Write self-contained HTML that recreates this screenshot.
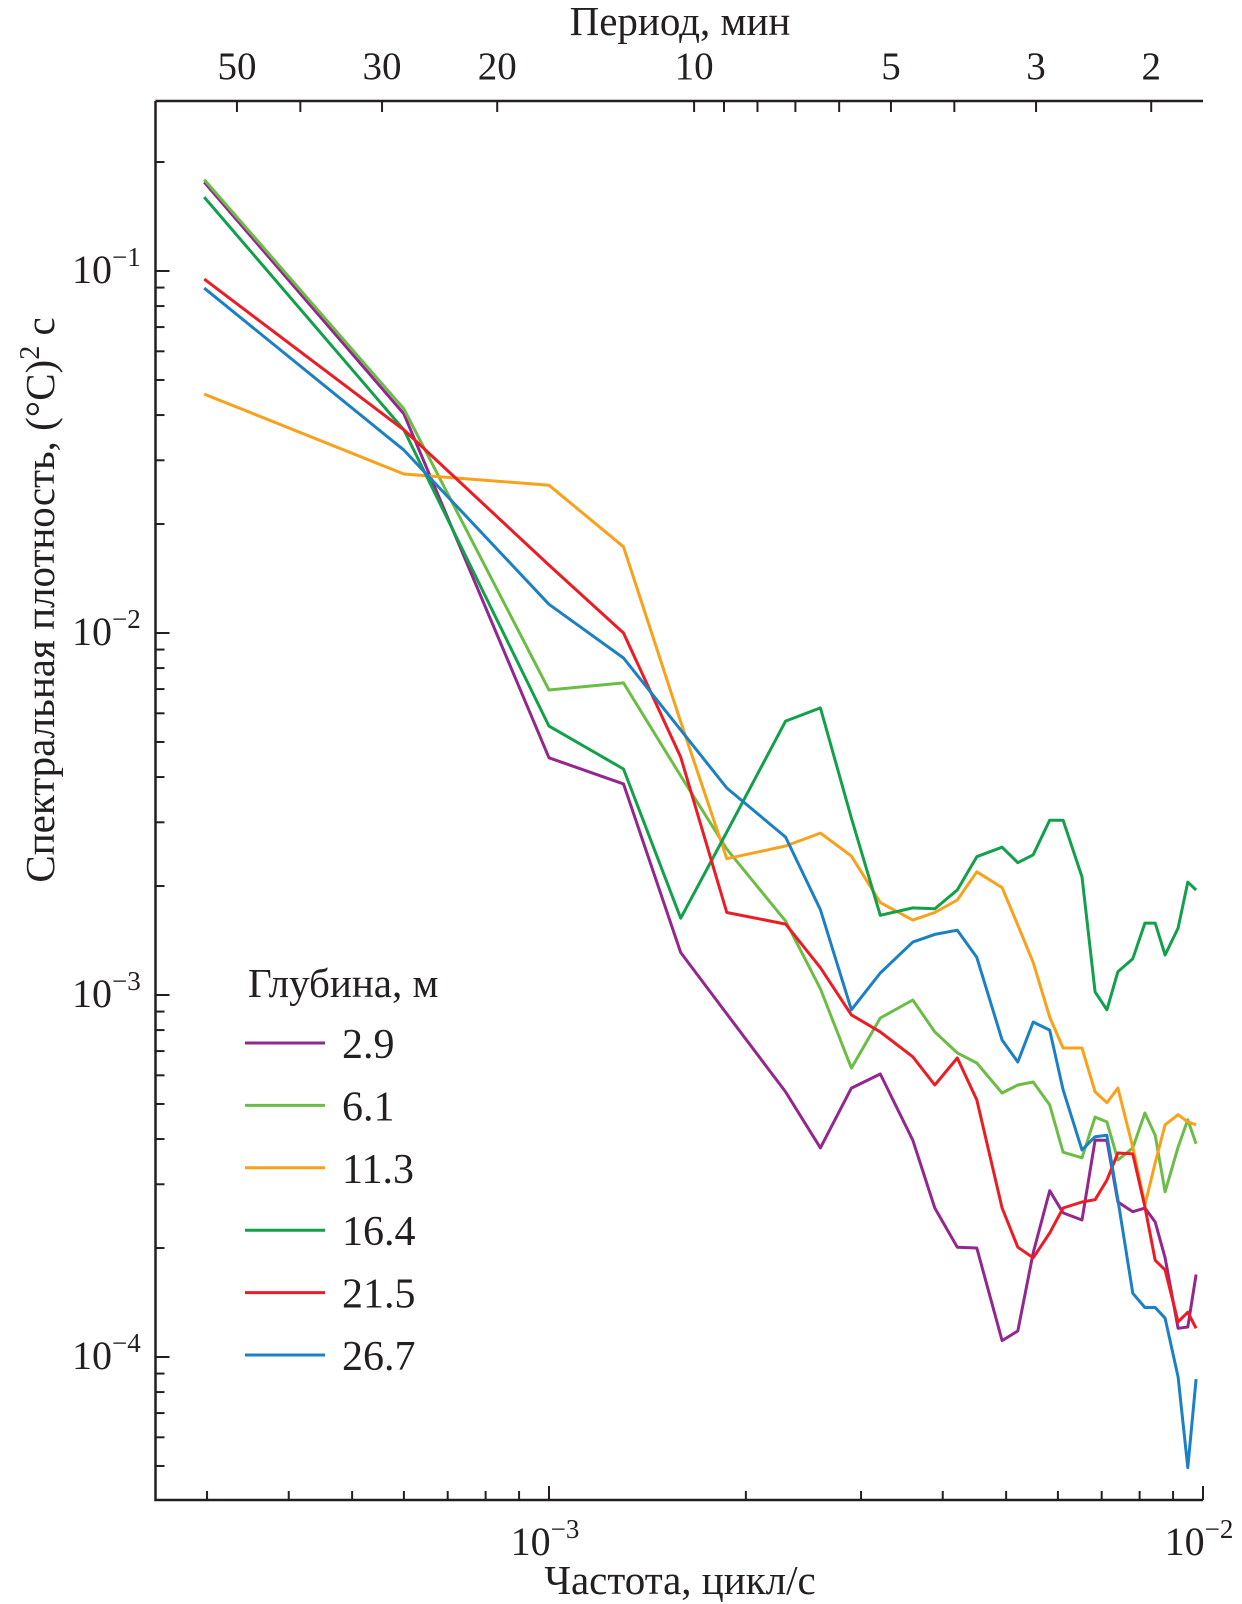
<!DOCTYPE html>
<html><head><meta charset="utf-8">
<style>
html,body{margin:0;padding:0;background:#fff;}
svg{display:block;font-family:"Liberation Serif",serif;}
</style></head>
<body>
<svg id="chart" width="1242" height="1604" viewBox="0 0 1242 1604" xmlns="http://www.w3.org/2000/svg">
<rect width="1242" height="1604" fill="#fff"/>
<g id="grid-ticks"></g>
<g id="series"></g>
<text x="680" y="35" font-size="41" text-anchor="middle" fill="#231f20">Период, мин</text>
<text x="680" y="1594" font-size="41" text-anchor="middle" fill="#231f20">Частота, цикл/с</text>
<text transform="translate(54,600) rotate(-90)" font-size="41" text-anchor="middle" fill="#231f20">Спектральная плотность, (°C)<tspan dy="-15" font-size="28">2</tspan><tspan dy="15"> с</tspan></text>
<g id="legend"></g>
</svg>
<script>
const freqs = [2.97e-4, 6.0e-4, 1.0e-3, 1.30e-3, 1.59e-3, 1.87e-3, 2.30e-3, 2.60e-3, 2.90e-3, 3.21e-3, 3.60e-3, 3.89e-3, 4.21e-3, 4.51e-3, 4.93e-3, 5.21e-3, 5.50e-3, 5.83e-3, 6.11e-3, 6.53e-3, 6.84e-3, 7.13e-3, 7.41e-3, 7.81e-3, 8.15e-3, 8.45e-3, 8.75e-3, 9.16e-3, 9.48e-3, 9.76e-3];
const depths = ["2.9", "6.1", "11.3", "16.4", "21.5", "26.7"];
const s29 = [0.176,0.0403,0.00452,0.00383,0.00131,8.87e-4,5.40e-4,3.78e-4,5.53e-4,6.05e-4,3.97e-4,2.58e-4,2.01e-4,2.00e-4,1.11e-4,1.18e-4,1.94e-4,2.88e-4,2.50e-4,2.39e-4,3.97e-4,3.97e-4,2.68e-4,2.52e-4,2.58e-4,2.36e-4,1.88e-4,1.20e-4,1.21e-4,1.69e-4];
const s61 = [0.179,0.0416,0.00696,0.00728,0.00403,0.00253,0.00160,0.00104,6.28e-4,8.64e-4,9.69e-4,7.91e-4,6.92e-4,6.49e-4,5.36e-4,5.64e-4,5.75e-4,4.97e-4,3.68e-4,3.55e-4,4.60e-4,4.46e-4,3.50e-4,3.78e-4,4.72e-4,4.10e-4,2.86e-4,3.80e-4,4.52e-4,3.88e-4];
const s113 = [0.0457,0.0275,0.0256,0.0173,0.00568,0.00238,0.00258,0.00280,0.00242,0.00180,0.00161,0.00169,0.00183,0.00219,0.00198,0.00156,0.00123,8.69e-4,7.14e-4,7.14e-4,5.40e-4,5.04e-4,5.53e-4,3.80e-4,2.63e-4,3.44e-4,4.38e-4,4.67e-4,4.46e-4,4.38e-4];
const s164 = [0.160,0.0364,0.00553,0.00421,0.00163,0.00282,0.00571,0.00621,0.00308,0.00166,0.00174,0.00173,0.00195,0.00241,0.00256,0.00232,0.00244,0.00304,0.00304,0.00212,0.00102,9.10e-4,0.00116,0.00126,0.00158,0.00158,0.00129,0.00153,0.00205,0.00195];
const s215 = [0.095,0.0364,0.0154,0.0100,0.00454,0.00169,0.00157,0.00119,8.81e-4,7.91e-4,6.75e-4,5.64e-4,6.70e-4,5.13e-4,2.58e-4,2.01e-4,1.88e-4,2.20e-4,2.58e-4,2.68e-4,2.72e-4,3.08e-4,3.66e-4,3.64e-4,2.60e-4,1.85e-4,1.74e-4,1.25e-4,1.33e-4,1.20e-4];
const s267 = [0.0897,0.0320,0.0120,0.00853,0.00540,0.00373,0.00273,0.00172,9.10e-4,0.00115,0.00140,0.00147,0.00151,0.00127,7.51e-4,6.53e-4,8.42e-4,8.00e-4,5.47e-4,3.73e-4,4.06e-4,4.10e-4,2.72e-4,1.50e-4,1.37e-4,1.37e-4,1.28e-4,8.81e-5,4.95e-5,8.69e-5];
const periodTicks = [50, 40, 30, 20, 10, 9, 8, 7, 6, 5, 4, 3, 2];
const periodLabels = [50, 30, 20, 10, 5, 3, 2];
const xMajor = [-3, -2];
const yMajor = [-1, -2, -3, -4];

const NS = "http://www.w3.org/2000/svg";
const L = 155.5, R = 1203, T = 101, B = 1500;
const xs = f => 549 + (Math.log10(f) + 3) * 654;
const ys = v => 271 + (-1 - Math.log10(v)) * 362;
const INK = "#231f20";
function mk(tag, attrs, parent) {
  const e = document.createElementNS(NS, tag);
  for (const k in attrs) e.setAttribute(k, attrs[k]);
  parent.appendChild(e);
  return e;
}
const g = document.getElementById("grid-ticks");
const frame = mk("path", {d: `M${L},${T} L${L},${B} L${R},${B} M${L},${T} L${R},${T}`, fill: "none", stroke: INK, "stroke-width": 2.5}, g);


for (let d = -4; d <= -2; d++) {
  for (let m = 1; m <= 9; m++) {
    const f = m * Math.pow(10, d);
    const x = xs(f);
    if (x < L - 1 || x > R + 1) continue;
    const len = m === 1 ? 14 : 9;
    const t = mk("line", {x1: x, y1: B, x2: x, y2: B - len, stroke: INK, "stroke-width": 2}, g);
    
    
  }
}
xMajor.forEach(p => {
  const x = xs(Math.pow(10, p));
  const t = mk("text", {x: x - 4, y: 1555, "font-size": 40, "text-anchor": "middle", fill: INK}, g);
  
  
  t.innerHTML = `10<tspan dy="-17" font-size="27">−${-p}</tspan>`;
});
for (let d = -5; d <= 0; d++) {
  for (let m = 1; m <= 9; m++) {
    const v = m * Math.pow(10, d);
    const y = ys(v);
    if (y < T - 1 || y > B + 1) continue;
    const len = m === 1 ? 14 : 9;
    const t = mk("line", {x1: L, y1: y, x2: L + len, y2: y, stroke: INK, "stroke-width": 2}, g);
    
    
  }
}
yMajor.forEach(p => {
  const y = ys(Math.pow(10, p));
  const t = mk("text", {x: 72, y: y + 12, "font-size": 40, fill: INK}, g);
  
  
  t.innerHTML = `10<tspan dy="-17" font-size="27">−${-p}</tspan>`;
});
periodTicks.forEach(P => {
  const x = xs(1 / (60 * P));
  const t = mk("line", {x1: x, y1: T, x2: x, y2: T + 11, stroke: INK, "stroke-width": 2}, g);
  
  
});
periodLabels.forEach(P => {
  const x = xs(1 / (60 * P));
  const t = mk("text", {x: x, y: 79, "font-size": 39, "text-anchor": "middle", fill: INK}, g);
  
  
  t.textContent = P;
});
const seriesVals = [s29, s61, s113, s164, s215, s267];
const colors = ["#93278f", "#6cbd45", "#f9a11b", "#12a04b", "#ed1c24", "#1b80c4"];
const sg = document.getElementById("series");
seriesVals.forEach((vals, i) => {
  const d = vals.map((v, k) => (k ? "L" : "M") + xs(freqs[k]).toFixed(1) + "," + ys(v).toFixed(1)).join(" ");
  const p = mk("path", {d: d, fill: "none", stroke: colors[i], "stroke-width": 3, "stroke-linejoin": "round"}, sg);
  
  
});
const lg = document.getElementById("legend");
const lt = mk("text", {x: 248, y: 997, "font-size": 41, fill: INK}, lg);


lt.textContent = "Глубина, м";
depths.forEach((dp, i) => {
  const y = 1043 + i * 62.4;
  const ln = mk("line", {x1: 245, y1: y, x2: 325, y2: y, stroke: colors[i], "stroke-width": 3}, lg);
  
  
  const tx = mk("text", {x: 342, y: y + 15, "font-size": 42, fill: INK}, lg);
  
  
  tx.textContent = dp;
});
</script>
</body></html>
